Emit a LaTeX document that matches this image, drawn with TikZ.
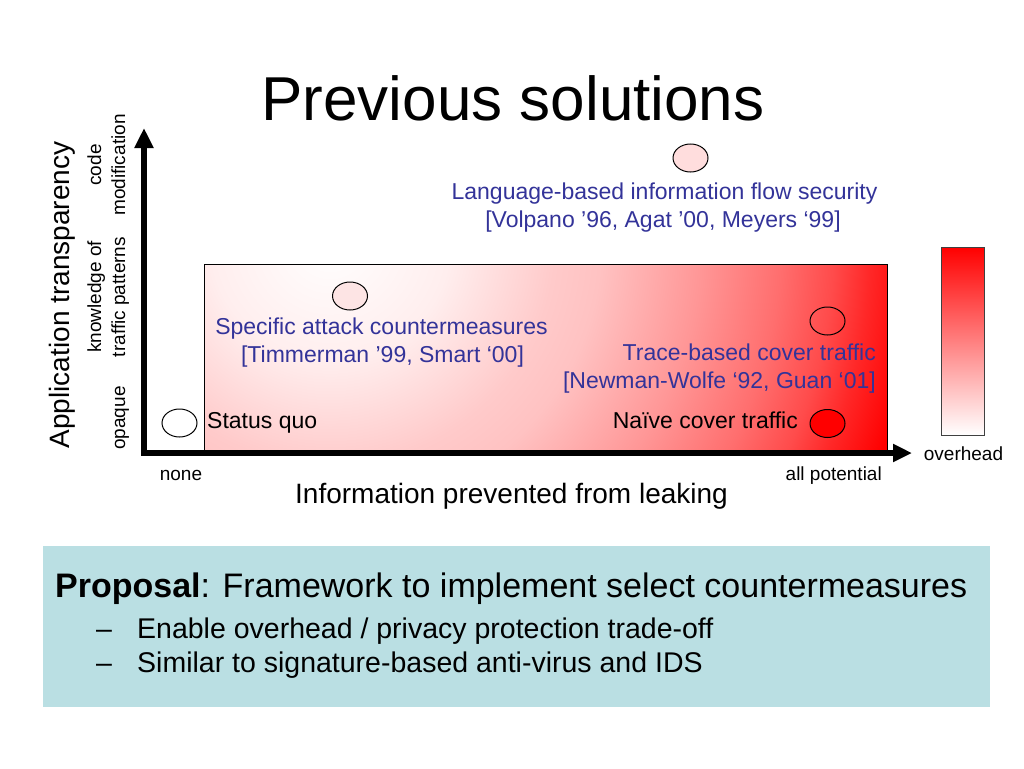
\documentclass[tikz,border=0pt]{standalone}
\usepackage{fontspec}
\setmainfont{Liberation Sans}
\usetikzlibrary{arrows.meta,shapes.geometric}
\definecolor{bluetxt}{RGB}{51,51,153}
\definecolor{propbg}{RGB}{186,223,227}
\definecolor{pkA}{RGB}{255,238,238}
\definecolor{pkB}{RGB}{255,202,202}
\definecolor{pkC}{RGB}{255,194,194}
\definecolor{pkD}{RGB}{255,150,150}
\definecolor{pkE}{RGB}{255,110,110}
\definecolor{pkF}{RGB}{255,75,75}
\definecolor{pkG}{RGB}{255,40,40}
\definecolor{pkH}{RGB}{255,0,0}
\definecolor{ovlang}{RGB}{255,221,221}
\definecolor{ovspec}{RGB}{253,228,228}
\pgfdeclareradialshading{leakshade}{\pgfpoint{0bp}{0bp}}{color(0bp)=(white); color(5bp)=(pkA); color(9.4bp)=(pkB); color(11.3bp)=(pkC); color(15.5bp)=(pkD); color(18.8bp)=(pkE); color(21bp)=(pkF); color(22.5bp)=(pkG); color(24.6bp)=(pkH); color(50bp)=(pkH)}
\tikzset{
  fs/.style={font=\fontsize{#1}{#1}\selectfont},
  oval/.style={ellipse, draw=black, line width=1pt, inner sep=0pt, minimum width=35pt, minimum height=28pt},
  bluelbl/.style={fs=23, text=bluetxt, inner sep=0pt},
  blacklbl/.style={fs=23, text=black, inner sep=0pt},
  small/.style={fs=19, inner sep=0pt},
  vlbl/.style={fs=19, inner sep=0pt, rotate=90, anchor=base},
  axisline/.style={line width=6pt, line join=miter, {Triangle[width=18pt,length=20pt]}-{Triangle[width=17pt,length=19pt]}}
}
\begin{document}
\begin{tikzpicture}[x=1pt,y=-1pt]
\useasboundingbox[fill=white] (0,0) rectangle (1024,768);

% title
\node[fs=62, anchor=base, inner sep=0pt] (title) at (513,120) {Previous solutions};

% shaded region
\begin{scope}
\clip (204,264) rectangle (887,453);
\shade[shading=leakshade] (330,240) circle (600);
\end{scope}
\draw[line width=1pt] (204,453) -- (204,264) -- (887,264) -- (887,453);

% overhead bar
\shade[top color=red, bottom color=white] (941,247) rectangle (984,435);
\draw[line width=1pt, draw=black!75] (941,247) rectangle (984,435);
\node[small, anchor=base] (overhead) at (963.5,460) {overhead};

% axes
\coordinate (ytip) at (144,128);
\coordinate (xtip) at (912,453);
\draw[axisline] (ytip) |- (xtip);

% axis labels
\node[fs=28, rotate=90, anchor=base, inner sep=0pt] (ylab) at (69,295) {Application transparency};
\node[vlbl] (code) at (101,165) {code};
\node[vlbl] (modif) at (125,165) {modification};
\node[vlbl] (knowl) at (101,297) {knowledge of};
\node[vlbl] (traffic) at (125,297) {traffic patterns};
\node[vlbl] (opaque) at (125,418) {opaque};

\node[small, anchor=base] (none) at (181,480) {none};
\node[small, anchor=base east] (allpot) at (882,480) {all potential};
\node[fs=28, anchor=base, inner sep=0pt] (xlab) at (511.5,503) {Information prevented from leaking};

% solutions
\node[oval, fill=white] (sqov) at (179.5,423) {};
\node[blacklbl, anchor=base west] (sq) at (207,428) {Status quo};

\node[oval, fill=ovlang] (langov) at (690.5,158) {};
\node[bluelbl, anchor=base] (lang1) at (664.5,199) {Language-based information flow security};
\node[bluelbl, anchor=base] (lang2) at (663,227) {[Volpano ’96, Agat ’00, Meyers ‘99]};

\node[oval, fill=ovspec] (specov) at (350,296) {};
\node[bluelbl, anchor=base] (spec1) at (381.5,334) {Specific attack countermeasures};
\node[bluelbl, anchor=base] (spec2) at (382.5,362) {[Timmerman ’99, Smart ‘00]};

\node[oval] (traceov) at (827.5,321) {};
\node[bluelbl, anchor=base east] (trace1) at (876,360) {Trace-based cover traffic};
\node[bluelbl, anchor=base east] (trace2) at (876,388) {[Newman-Wolfe ‘92, Guan ‘01]};

\node[oval, fill=red] (naiveov) at (827.5,423.5) {};
\node[blacklbl, anchor=base east] (naive) at (798,428) {Naïve cover traffic};

% proposal box
\fill[propbg] (43,546) rectangle (990,707);
\node[fs=34, anchor=base west, inner sep=0pt] (prop) at (55,597) {\textbf{Proposal}: Framework to implement select countermeasures};
\node[fs=28.5, anchor=base west, inner sep=0pt] (dash1) at (96,638) {\textendash};
\node[fs=28.5, anchor=base west, inner sep=0pt] (b1) at (137,638) {Enable overhead / privacy protection trade-off};
\node[fs=28.5, anchor=base west, inner sep=0pt] (dash2) at (96,672) {\textendash};
\node[fs=28.5, anchor=base west, inner sep=0pt] (b2) at (137,672) {Similar to signature-based anti-virus and IDS};
\end{tikzpicture}
\end{document}
